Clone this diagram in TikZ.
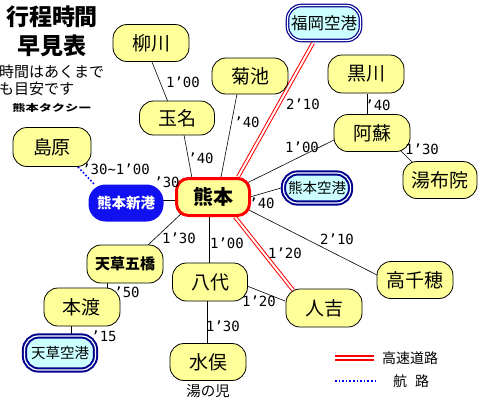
\documentclass[tikz,border=0pt]{standalone}
\usepackage{fontspec}
\setmainfont{Noto Sans CJK JP}
\newfontfamily\lab{DejaVu Sans Mono}
\usetikzlibrary{calc,backgrounds}
\definecolor{yel}{RGB}{255,255,153}
\definecolor{cya}{RGB}{204,255,255}
\definecolor{nav}{RGB}{0,0,140}
\definecolor{newblue}{RGB}{16,16,240}
\begin{document}
\begin{tikzpicture}[x=1pt,y=-1pt,
  fs/.style={font=\fontsize{#1}{#1}\selectfont},
  place/.style={draw=black, fill=yel, line width=0.8pt, rounded corners=14pt,
    minimum width=76pt, minimum height=37pt, inner sep=0pt, fs=19},
  hub/.style={draw=red, fill=yel, line width=3pt, rounded corners=12pt,
    minimum width=73pt, minimum height=37pt, inner sep=0pt,
    font=\bfseries\fontsize{20}{20}\selectfont},
  port/.style={draw=nav, fill=cya, double=white, line width=2pt, double distance=1.2pt,
    rounded corners=14pt, minimum width=71pt, minimum height=33pt, inner sep=0pt, fs=15},
  sea port/.style={fill=newblue, text=white, rounded corners=17pt,
    minimum width=75pt, minimum height=37pt, inner sep=0pt,
    font=\bfseries\fontsize{14.5}{14.5}\selectfont},
  time/.style={font=\lab\fontsize{14}{14}\selectfont, inner sep=0pt},
  road/.style={draw=red, double=white, line width=1pt, double distance=2pt},
  sea/.style={draw=blue, dotted, line width=1.6pt},
  link/.style={draw=black, line width=0.6pt},
  plain/.style={inner sep=0pt}
]
\useasboundingbox (0,0) rectangle (480,400);

% title block
\node[plain, font=\bfseries\fontsize{23}{23}\selectfont] (t1) at (52,17) {行程時間};
\node[plain, font=\bfseries\fontsize{23}{23}\selectfont] (t2) at (52,46) {早見表};
\node[plain, fs=15, anchor=west] (n1) at (-1,72) {時間はあくまで};
\node[plain, fs=15, anchor=west] (n2) at (-1,89) {も目安です};
\node[plain, font=\bfseries\fontsize{11}{11}\selectfont, xscale=1.2, yscale=0.85] (logo) at (52,108) {熊本タクシー};

% places
\node[place] (yanagawa) at (151,43) {柳川};
\node[place, minimum height=36pt] (kikuchi) at (250,76) {菊池};
\node[place, minimum width=75pt, minimum height=34pt] (tamana) at (177,118) {玉名};
\node[port, line width=1.2pt, minimum width=73pt, minimum height=35pt, fs=16.5] (fukuoka) at (324,23) {福岡空港};
\node[place, minimum height=38pt] (kurokawa) at (366,74) {黒川};
\node[place] (aso) at (372,133) {阿蘇};
\node[place, minimum width=74pt] (yufuin) at (440,180) {湯布院};
\node[port, minimum width=67pt, minimum height=30pt, fs=14.5] (kkuko) at (317,188) {熊本空港};
\node[hub] (kumamoto) at (213,197) {熊本};
\node[sea port] (shinko) at (126,203) {熊本新港};
\node[place, minimum width=78pt, minimum height=39pt] (shimabara) at (52,147) {島原};
\node[place, minimum height=38pt, font=\bfseries\fontsize{15}{15}\selectfont] (gokyo) at (125,264) {天草五橋};
\node[place, minimum height=38pt] (hondo) at (82,307) {本渡};
\node[port, minimum height=34pt, fs=14.5] (akuko) at (60,353) {天草空港};
\node[place, minimum width=75pt, minimum height=38pt] (yatsushiro) at (210,282) {八代};
\node[place] (minamata) at (208,362) {水俣};
\node[plain, fs=14.5] (yunoko) at (208,391) {湯の児};
\node[place, minimum height=38pt] (hitoyoshi) at (324,308) {人吉};
\node[place] (takachiho) at (415,280) {高千穂};

% connectors
\begin{scope}[on background layer]
\fill[white] (0,0) rectangle (480,400);
\draw[link] ($(yanagawa)+(1,19)$) -- ($(tamana)+(-9,-16)$);
\draw[link] ($(kikuchi)+(-13,18)$) -- ($(kumamoto)+(8,-20)$);
\draw[link] ($(tamana)+(7,17)$) -- ($(kumamoto)+(-21,-19)$);
\draw[road] ($(fukuoka)+(-11,20)$) -- ($(kumamoto)+(25,-20)$);
\draw[road] ($(kumamoto)+(22,20)$) -- ($(hitoyoshi)+(-31,-18)$);
\draw[link] ($(kurokawa)+(1,20)$) -- ($(aso)+(-5,-18)$);
\draw[link] ($(kumamoto)+(34,-14)$) -- ($(aso)+(-38,7)$);
\draw[link] ($(aso)+(28,17)$) -- ($(yufuin)+(-28,-18)$);
\draw[link] ($(kumamoto)+(37,0)$) -- ($(kkuko)+(-36,0)$);
\draw[link] ($(kumamoto)+(34,12)$) -- ($(takachiho)+(-38,-5)$);
\draw[link] ($(kumamoto)+(-4,20)$) -- ($(yatsushiro)+(-1,-19)$);
\draw[link] ($(yatsushiro)+(37,4)$) -- ($(hitoyoshi)+(-39,-7)$);
\draw[link] ($(yatsushiro)+(-3,19)$) -- ($(minamata)+(-1,-19)$);
\draw[link] ($(kumamoto)+(-31,16)$) -- ($(gokyo)+(23,-19)$);
\draw[link] ($(shinko)+(36,-3)$) -- ($(kumamoto)+(-37,3)$);
\draw[sea] ($(shimabara)+(26,20)$) -- ($(shinko)+(-31,-18)$);
\draw[link] ($(gokyo)+(-18,18)$) -- ($(hondo)+(25,-19)$);
\draw[link] ($(hondo)+(-11,19)$) -- ($(akuko)+(11,-19)$);
\end{scope}

% time labels
\node[time] (l1) at (183,82) {1’00};
\node[time] (l2) at (247,122) {’40};
\node[time] (l3) at (303,104) {2’10};
\node[time] (l4) at (378,105) {’40};
\node[time] (l5) at (302,147) {1’00};
\node[time] (l6) at (422,149) {1’30};
\node[time] (l7) at (262,203) {’40};
\node[time] (l8) at (337,239) {2’10};
\node[time] (l9) at (201,158) {’40};
\node[time] (l10) at (167,182) {’30};
\node[time] (l11) at (116,169) {’30\textasciitilde1’00};
\node[time] (l12) at (179,238) {1’30};
\node[time] (l13) at (227,243) {1’00};
\node[time] (l14) at (285,253) {1’20};
\node[time] (l15) at (259,301) {1’20};
\node[time] (l16) at (223,326) {1’30};
\node[time] (l17) at (127,292) {’50};
\node[time] (l18) at (104,336) {’15};

% legend
\coordinate (r1) at (335,358);
\coordinate (r2) at (374,358);
\coordinate (s1) at (335,381);
\coordinate (s2) at (377,381);
\draw[road, line width=1.6pt, double distance=2pt] (r1) -- (r2);
\draw[sea] (s1) -- (s2);
\node[plain, fs=14, anchor=west] (k1) at (382,358) {高速道路};
\node[plain, fs=14, anchor=west] (k2) at (393,381) {航\hspace{8pt}路};
\end{tikzpicture}
\end{document}
